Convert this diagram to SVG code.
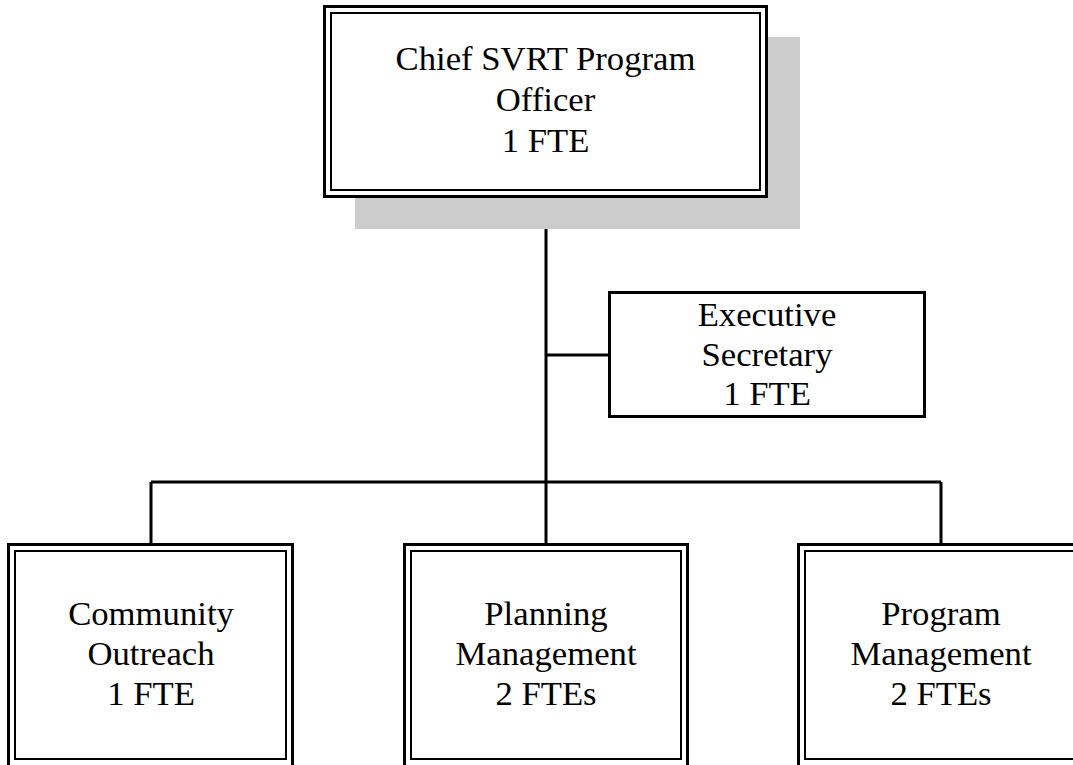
<svg xmlns="http://www.w3.org/2000/svg" width="1073" height="765" viewBox="0 0 1073 765">
<style>
.outer{fill:#ffffff;stroke:#000;stroke-width:3}
.inner{fill:none;stroke:#000;stroke-width:2}
.single{fill:#ffffff;stroke:#000;stroke-width:3}
.conn{fill:none;stroke:#000;stroke-width:3}
text{font-family:"Liberation Serif","Times New Roman",serif;font-size:34.7px;fill:#000;text-anchor:middle}
</style>
<rect width="1073" height="765" fill="#ffffff"/>
<g id="connectors">
<line class="conn" x1="546" y1="197" x2="546" y2="482"/>
<line class="conn" x1="546" y1="355" x2="609" y2="355"/>
<line class="conn" x1="151" y1="482" x2="941" y2="482"/>
<line class="conn" x1="151" y1="482" x2="151" y2="544"/>
<line class="conn" x1="546" y1="482" x2="546" y2="544"/>
<line class="conn" x1="941" y1="482" x2="941" y2="544"/>
</g>
<g id="chief">
<rect x="355" y="37" width="445" height="192" fill="#cccccc"/>
<rect class="outer" x="324.5" y="6.5" width="442" height="190"/>
<rect class="inner" x="331" y="13" width="429" height="177"/>
<text x="545.5" y="70">Chief SVRT Program</text>
<text x="545.5" y="111">Officer</text>
<text x="545.5" y="152">1 FTE</text>
</g>
<g id="exec">
<rect class="single" x="609.5" y="292.5" width="315" height="124"/>
<text x="767" y="326">Executive</text>
<text x="767" y="365.5">Secretary</text>
<text x="767" y="405">1 FTE</text>
</g>
<g id="community">
<rect class="outer" x="8.5" y="544.5" width="284" height="230"/>
<rect class="inner" x="15" y="551" width="271" height="208"/>
<text x="151" y="625">Community</text>
<text x="151" y="665">Outreach</text>
<text x="151" y="705">1 FTE</text>
</g>
<g id="planning">
<rect class="outer" x="404.5" y="544.5" width="283" height="230"/>
<rect class="inner" x="411" y="551" width="270" height="208"/>
<text x="546" y="625">Planning</text>
<text x="546" y="665">Management</text>
<text x="546" y="705">2 FTEs</text>
</g>
<g id="program">
<rect class="outer" x="798.5" y="544.5" width="285" height="230"/>
<rect class="inner" x="805" y="551" width="272" height="208"/>
<text x="941" y="625">Program</text>
<text x="941" y="665">Management</text>
<text x="941" y="705">2 FTEs</text>
</g>
</svg>
